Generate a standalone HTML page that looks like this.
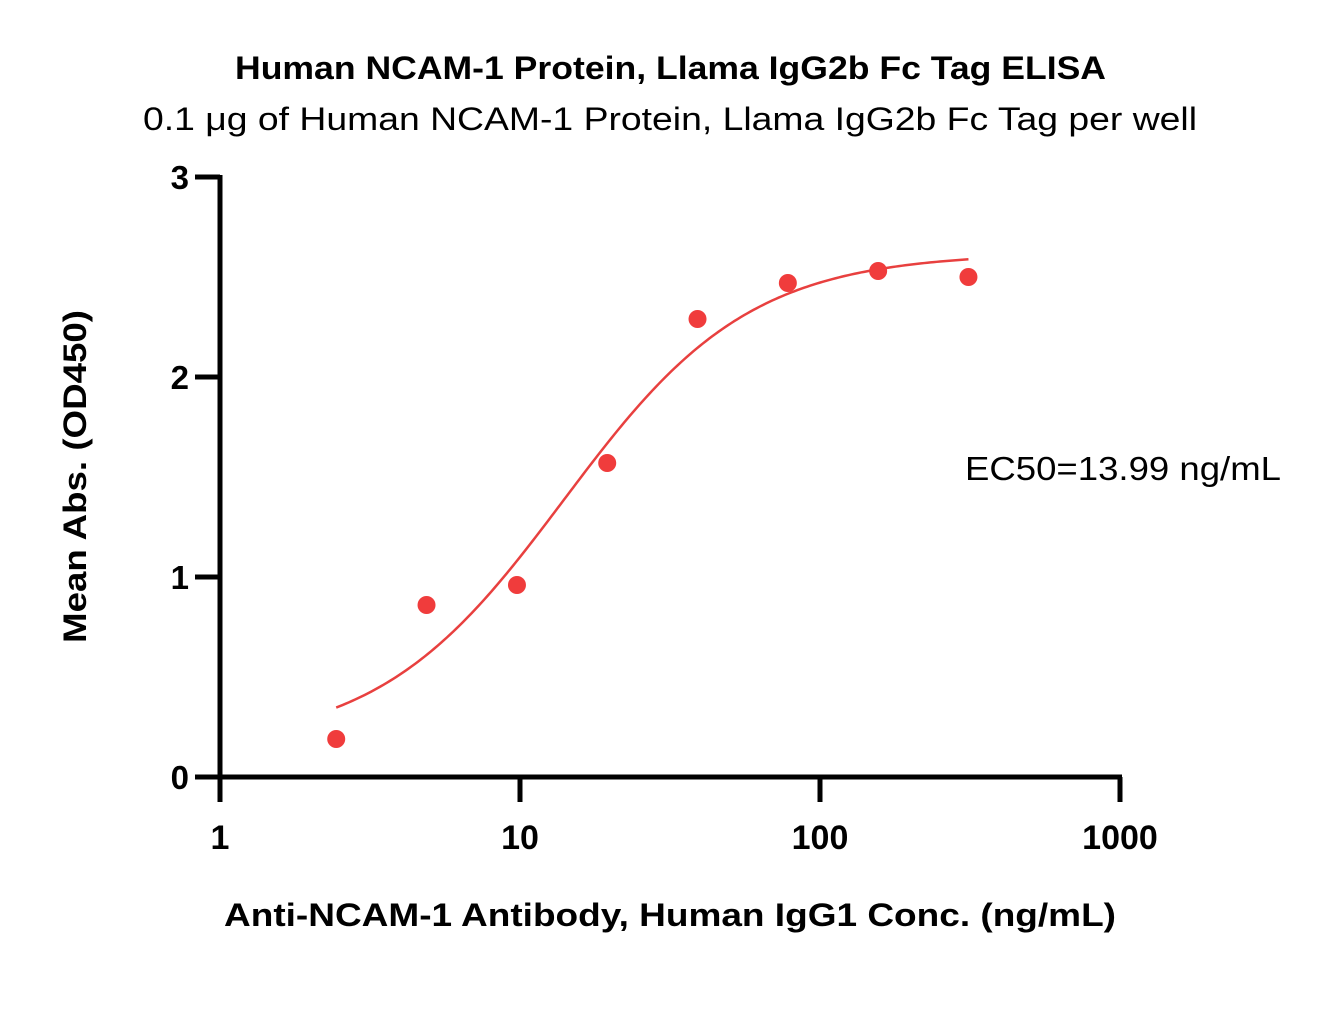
<!DOCTYPE html>
<html><head><meta charset="utf-8"><style>
body{margin:0;background:#fff;}
svg{display:block;font-family:"Liberation Sans",sans-serif;}
</style></head><body>
<svg id="chart" width="1325" height="1032" viewBox="0 0 1325 1032">
<text x="235" y="79" font-size="32" font-weight="bold" textLength="871" lengthAdjust="spacingAndGlyphs">Human NCAM-1 Protein, Llama IgG2b Fc Tag ELISA</text>
<text x="143" y="130" font-size="32" textLength="1054" lengthAdjust="spacingAndGlyphs">0.1 μg of Human NCAM-1 Protein, Llama IgG2b Fc Tag per well</text>
<g id="axes"></g>
<g id="marks"></g>
<text x="965" y="480" font-size="33" textLength="316" lengthAdjust="spacingAndGlyphs">EC50=13.99 ng/mL</text>
<text x="224" y="926" font-size="32" font-weight="bold" textLength="892" lengthAdjust="spacingAndGlyphs">Anti-NCAM-1 Antibody, Human IgG1 Conc. (ng/mL)</text>
<text transform="translate(86,643) rotate(-90)" font-size="32" font-weight="bold" textLength="333" lengthAdjust="spacingAndGlyphs">Mean Abs. (OD450)</text>
</svg>
<script>
const concentrations=[2.44,4.88,9.77,19.53,39.06,78.13,156.25,312.5];
const absorbance=[0.19,0.86,0.96,1.57,2.29,2.47,2.53,2.50];
const xTicks=[1,10,100,1000];
const yTicks=[0,1,2,3];
const fitBottom=[0.15];
const fitTop=[2.62];
const fitEC50=[13.99];
const fitHill=[1.4];

const NS='http://www.w3.org/2000/svg';
const x0=220,x1=1120,y0=777,y1=177;
function xs(v){return x0+(Math.log10(v)-0)/3*(x1-x0);}
function ys(v){return y0-(v/3)*(y0-y1);}
function mk(tag,attrs,parent){const e=document.createElementNS(NS,tag);for(const k in attrs)e.setAttribute(k,attrs[k]);parent.appendChild(e);return e;}
const axes=document.getElementById('axes'),marks=document.getElementById('marks');
let l=mk('line',{x1:x0,y1:y1-2,x2:x0,y2:y0+2,stroke:'#000','stroke-width':5},axes);


l=mk('line',{x1:x0-2,y1:y0,x2:x1+2,y2:y0,stroke:'#000','stroke-width':5},axes);


yTicks.forEach(t=>{
  const y=ys(t);
  let tk=mk('line',{x1:x0-25,y1:y,x2:x0,y2:y,stroke:'#000','stroke-width':5},axes);
  
  
  let tx=mk('text',{x:x0-31,y:y+12,'text-anchor':'end','font-size':33,'font-weight':'bold'},axes);
  tx.textContent=t;
  
  
});
xTicks.forEach(t=>{
  const x=xs(t);
  let tk=mk('line',{x1:x,y1:y0,x2:x,y2:y0+25,stroke:'#000','stroke-width':5},axes);
  
  
  let tx=mk('text',{x:x,y:849,'text-anchor':'middle','font-size':34,'font-weight':'bold'},axes);
  tx.textContent=t;
  
  
});
function fit(c){return fitBottom[0]+(fitTop[0]-fitBottom[0])/(1+Math.pow(fitEC50[0]/c,fitHill[0]));}
let d='';const lo=Math.log10(concentrations[0]),hi=Math.log10(concentrations[concentrations.length-1]);
for(let i=0;i<=200;i++){const c=Math.pow(10,lo+(hi-lo)*i/200);d+=(i?'L':'M')+xs(c).toFixed(2)+','+ys(fit(c)).toFixed(2);}
const p=mk('path',{d:d,fill:'none',stroke:'#e8403f','stroke-width':2.5},marks);


concentrations.forEach((c,i)=>{
  const pt=mk('circle',{cx:xs(c),cy:ys(absorbance[i]),r:9,fill:'#f03c3c'},marks);
  
  
});
</script>
</body></html>
